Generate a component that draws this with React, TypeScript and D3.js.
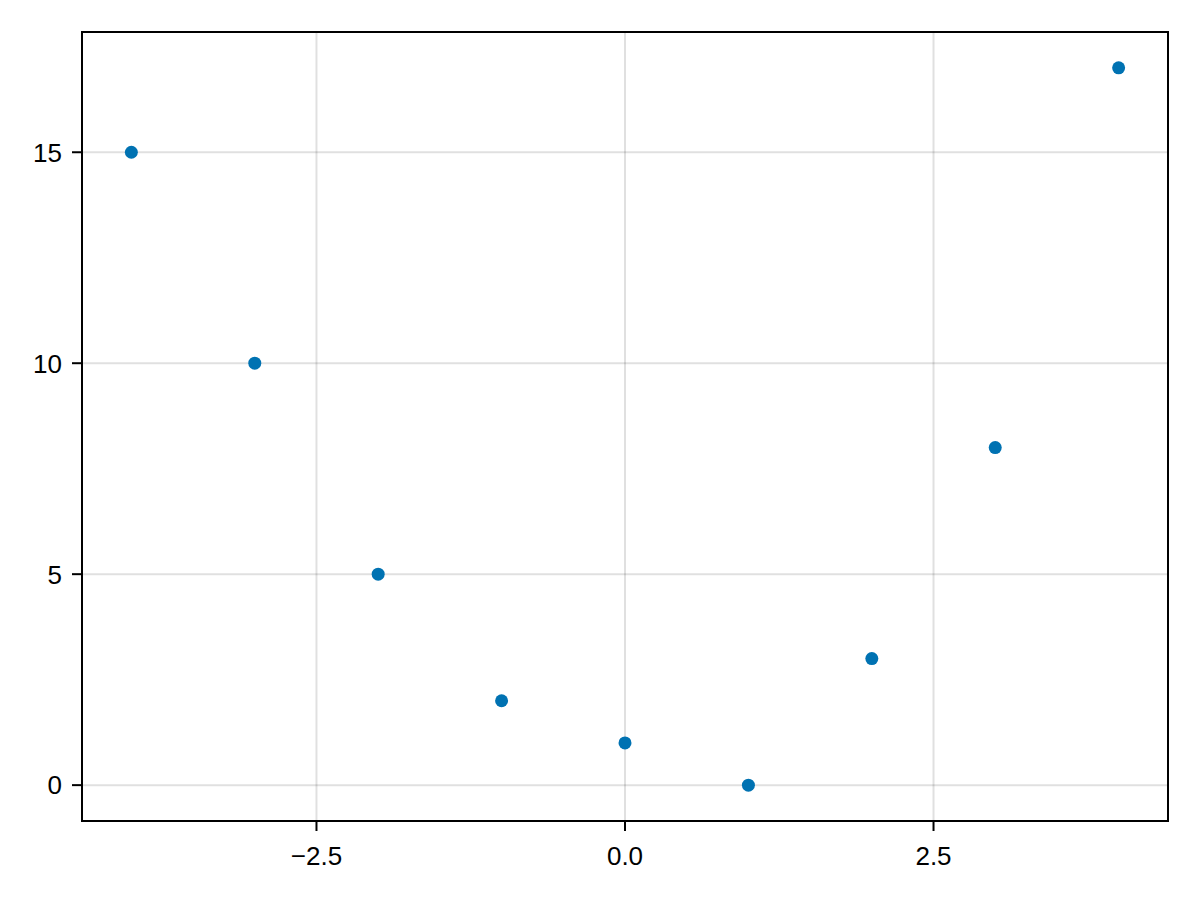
import React from 'react'
import * as d3 from 'd3'

// scatter data
const xValues = [-4, -3, -2, -1, 0, 1, 2, 3, 4]
const yValues = [15, 10, 5, 2, 1, 0, 3, 8, 17]
const xTicks = [-2.5, 0, 2.5]
const yTicks = [0, 5, 10, 15]

export default function App() {
  const width = 1200
  const height = 900
  const margin = { top: 32, right: 32, bottom: 79, left: 82 }

  const x = d3.scaleLinear([-4.4, 4.4], [margin.left, width - margin.right])
  const y = d3.scaleLinear([-0.85, 17.85], [height - margin.bottom, margin.top])
  const fmt = d3.format('.1f')

  const left = margin.left
  const right = width - margin.right
  const top = margin.top
  const bottom = height - margin.bottom
  const font = '"Liberation Sans", Arial, sans-serif'

  return (
    <svg width={width} height={height} style={{ display: 'block', margin: -8, background: '#fff' }}>
      <rect x={0} y={0} width={width} height={height} fill="#fff" />
      {/* grid */}
      {xTicks.map(t => (
        <line key={'gx' + t} x1={x(t)} x2={x(t)} y1={top} y2={bottom} stroke="#000" strokeOpacity={0.12} strokeWidth={2} />
      ))}
      {yTicks.map(t => (
        <line key={'gy' + t} x1={left} x2={right} y1={y(t)} y2={y(t)} stroke="#000" strokeOpacity={0.12} strokeWidth={2} />
      ))}
      {/* points */}
      {xValues.map((xv, i) => (
        <circle key={i} cx={x(xv)} cy={y(yValues[i])} r={6.5} fill="#0072b2" />
      ))}
      {/* frame */}
      <rect x={left} y={top} width={right - left} height={bottom - top} fill="none" stroke="#000" strokeWidth={2} />
      {/* x axis ticks */}
      {xTicks.map(t => (
        <g key={'tx' + t}>
          <line x1={x(t)} x2={x(t)} y1={bottom} y2={bottom + 10} stroke="#000" strokeWidth={2} />
          <text x={x(t)} y={bottom + 44} textAnchor="middle" fontFamily={font} fontSize={26} fill="#000">
            {fmt(t).replace('-', '\u2212')}
          </text>
        </g>
      ))}
      {/* y axis ticks */}
      {yTicks.map(t => (
        <g key={'ty' + t}>
          <line x1={left - 10} x2={left} y1={y(t)} y2={y(t)} stroke="#000" strokeWidth={2} />
          <text x={left - 20} y={y(t)} dy="0.36em" textAnchor="end" fontFamily={font} fontSize={26} fill="#000">
            {t}
          </text>
        </g>
      ))}
    </svg>
  )
}
